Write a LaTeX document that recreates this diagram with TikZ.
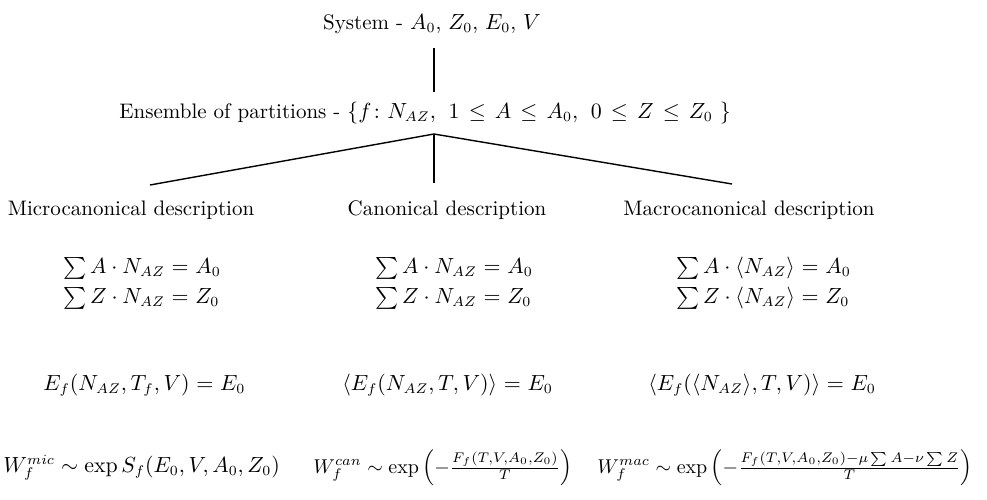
\documentclass[tikz,border=0pt]{standalone}
\usepackage{amsmath}
\begin{document}
\begin{tikzpicture}[x=0.5pt,y=-0.5pt,
  lbl/.style={inner sep=0pt,anchor=west,font=\fontsize{10.5}{12}\selectfont},
  lbls/.style={inner sep=0pt,anchor=west,font=\fontsize{10}{12}\selectfont},
  ctr/.style={inner sep=0pt,anchor=center,font=\fontsize{10.5}{12}\selectfont},
  conn/.style={line width=0.7pt},
  wide/.style={execute at begin node={\thickmuskip=5.5mu}}]
\useasboundingbox (0,0) rectangle (987,499);
\node[ctr] (sys) at (432,24) {System - $A_0$, $Z_0$, $E_0$, $V$};
\node[lbl] (ens) at (119,113) {Ensemble of partitions - $\thickmuskip=7.5mu\{f\colon N_{AZ},\; 1\le A\le A_0,\; 0\le Z\le Z_0\ \}$};
\coordinate (t1) at (434,48);
\coordinate (t2) at (434,92);
\coordinate (apex) at (434,134);
\coordinate (lend) at (150,185);
\coordinate (mend) at (434,183);
\coordinate (rend) at (732,184);
\draw[conn] (t1) -- (t2);
\draw[conn] (apex) -- (lend);
\draw[conn] (apex) -- (mend);
\draw[conn] (apex) -- (rend);
\node[ctr] (mic) at (131,210) {Microcanonical description};
\node[ctr] (can) at (447,210) {Canonical description};
\node[ctr] (mac) at (749,210) {Macrocanonical description};
\node[lbl,wide] (m1) at (63,268) {$\sum A\cdot N_{AZ}=A_0$};
\node[lbl,wide] (m2) at (63,298) {$\sum Z\cdot N_{AZ}=Z_0$};
\node[lbl,wide] (c1) at (375,268) {$\sum A\cdot N_{AZ}=A_0$};
\node[lbl,wide] (c2) at (375,298) {$\sum Z\cdot N_{AZ}=Z_0$};
\node[lbl,wide] (a1) at (676,268) {$\sum A\cdot\langle N_{AZ}\rangle=A_0$};
\node[lbl,wide] (a2) at (676,298) {$\sum Z\cdot\langle N_{AZ}\rangle=Z_0$};
\node[lbl,wide] (m3) at (43,385) {$E_f(N_{AZ},T_f,V)=E_0$};
\node[lbl,wide] (c3) at (342,385) {$\langle E_f(N_{AZ},T,V)\rangle=E_0$};
\node[lbl,wide] (a3) at (648,385) {$\langle E_f(\langle N_{AZ}\rangle,T,V)\rangle=E_0$};
\node[lbl] (m4) at (3,468) {$W_f^{mic}\sim\exp S_f(E_0,V,A_0,Z_0)$};
\node[lbls] (c4) at (313,468) {$W_f^{can}\sim\exp\left(-\frac{F_f(T,V,A_0,Z_0)}{T}\right)$};
\node[lbls] (a4) at (597,468) {$W_f^{mac}\sim\exp\left(-\frac{F_f(T,V,A_0,Z_0)-\mu\sum A-\nu\sum Z}{T}\right)$};
\end{tikzpicture}
\end{document}
